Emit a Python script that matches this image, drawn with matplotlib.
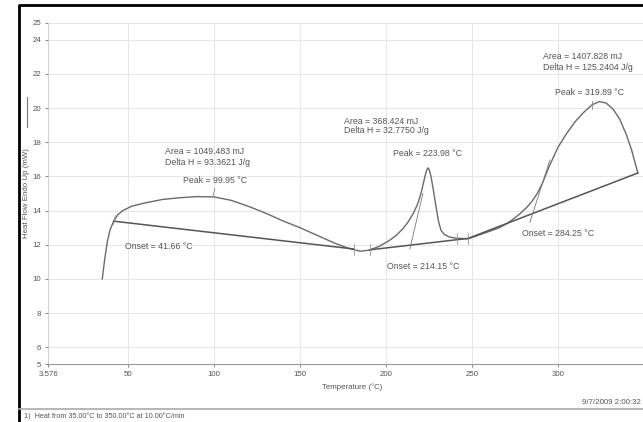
import matplotlib
matplotlib.use("Agg")
import matplotlib.pyplot as plt
from matplotlib.lines import Line2D

plt.rcParams['font.family'] = ['Liberation Sans', 'DejaVu Sans']

# DSC trace (temperature in C, heat flow in mW)
temp = [35, 36.5, 38, 39.5, 41.5, 44, 47, 52, 60, 70, 80, 90, 100, 110, 120,
        130, 140, 150, 160, 170, 178, 185, 190, 196, 202, 206, 210, 213, 216,
        218.5, 220.5, 222, 223.3, 224.3, 225.2, 226.2, 227.5, 229, 230.5, 232,
        234, 237, 241, 248, 255, 262, 266, 270, 274, 278, 282, 285, 288, 291,
        295, 300, 305, 310, 315, 320, 324, 328, 332, 336, 340, 343, 346.5]
heat = [10.0, 11.2, 12.2, 12.85, 13.35, 13.75, 14.0, 14.25, 14.45, 14.65,
        14.75, 14.82, 14.8, 14.6, 14.25, 13.85, 13.4, 13.0, 12.55, 12.1, 11.8,
        11.62, 11.68, 11.9, 12.25, 12.55, 12.95, 13.35, 13.85, 14.4, 15.05,
        15.7, 16.25, 16.5, 16.4, 16.0, 15.25, 14.3, 13.4, 12.85, 12.6, 12.45,
        12.38, 12.35, 12.6, 12.85, 13.0, 13.22, 13.5, 13.82, 14.2, 14.55, 15.0,
        15.6, 16.6, 17.7, 18.5, 19.2, 19.75, 20.2, 20.38, 20.3, 19.95, 19.35,
        18.4, 17.5, 16.2]

# integration baselines (start/end points)
base_t = [(41.66, 181.4), (190.5, 247.7), (247.7, 346.5)]
base_h = [(13.38, 11.75), (11.7, 12.37), (12.37, 16.2)]

# onset tangents
tan_t = [(213.9, 221.5), (283.7, 295.3)]
tan_h = [(11.75, 15.0), (13.3, 16.95)]

labels = [
    ("Area = 1049.483 mJ", 71.5, 17.47),
    ("Delta H = 93.3621 J/g", 71.5, 16.84),
    ("Peak = 99.95 °C", 82, 15.79),
    ("Onset = 41.66 °C", 48.3, 11.87),
    ("Area = 368.424 mJ", 175.6, 19.24),
    ("Delta H = 32.7750 J/g", 175.6, 18.66),
    ("Peak = 223.98 °C", 204, 17.37),
    ("Onset = 214.15 °C", 200.6, 10.7),
    ("Area = 1407.828 mJ", 291.3, 23.05),
    ("Delta H = 125.2404 J/g", 291.3, 22.4),
    ("Peak = 319.89 °C", 298.3, 20.94),
    ("Onset = 284.25 °C", 279, 12.63),
]

xticks = [3.576, 50, 100, 150, 200, 250, 300]
yticks = [5, 6, 8, 10, 12, 14, 16, 18, 20, 22, 24, 25]

W, H = 643, 422
fig = plt.figure(figsize=(W / 100, H / 100), dpi=100)
ax = fig.add_axes([48.2 / W, 57.7 / H, (643 - 48.2) / W, 341.6 / H])

txt = '#555555'
ax.set_xlim(3.576, 349.5)
ax.set_ylim(5, 25)
ax.set_xticks(xticks)
ax.set_xticklabels(['3.576', '50', '100', '150', '200', '250', '300'])
ax.set_yticks(yticks)
ax.grid(True, color='#e6e6e6', linewidth=0.7)
ax.tick_params(labelsize=5.7, colors=txt, length=2, width=0.5, pad=3)
for s in ['top', 'right']:
    ax.spines[s].set_visible(False)
ax.spines['left'].set_color('#cccccc')
ax.spines['bottom'].set_color('#999999')
ax.spines['left'].set_linewidth(0.6)
ax.spines['bottom'].set_linewidth(0.8)

ax.plot(temp, heat, color='#6a6a6a', linewidth=1.0)
for bt, bh in zip(base_t, base_h):
    ax.plot(bt, bh, color='#555555', linewidth=1.1)
for tt, th in zip(tan_t, tan_h):
    ax.plot(tt, th, color='#777777', linewidth=0.6)

# small tick marks at peaks and baseline limits
for t in [181.4, 190.5, 241.3, 247.7]:
    h = 11.72 if t < 195 else 12.37
    ax.plot([t, t], [h - 0.3, h + 0.3], color='#999999', linewidth=0.6)
ax.plot([99.5, 100.5], [14.85, 15.3], color='#888888', linewidth=0.6)
ax.plot([319.9, 319.9], [19.95, 20.4], color='#888888', linewidth=0.6)
ax.plot([41.6, 42.6], [13.2, 13.7], color='#888888', linewidth=0.6)

for s, x, y in labels:
    ax.text(x, y, s, fontsize=6.3, color=txt, va='center', ha='left')

ax.set_xlabel('Temperature (°C)', fontsize=5.7, color=txt, labelpad=-2)
ax.xaxis.set_label_coords((352 - 48.2) / (643 - 48.2), -19 / 341.6)

# y label with line sample
fig.text(27 / W, 1 - 193 / H, 'Heat Flow Endo Up (mW)', rotation=90,
         fontsize=5.7, color=txt, ha='center', va='center')
fig.add_artist(Line2D([27 / W, 27 / W], [1 - 97 / H, 1 - 127 / H],
                      transform=fig.transFigure, color='#777777', linewidth=0.8))

# page frame
fig.add_artist(Line2D([19 / W, 19 / W, 1.01], [0, 1 - 5 / H, 1 - 5 / H],
                      transform=fig.transFigure, color='black', linewidth=2))
fig.add_artist(Line2D([19 / W, 1.0], [1 - 409 / H, 1 - 409 / H],
                      transform=fig.transFigure, color='#aaaaaa', linewidth=1.2))

fig.text(641 / W, 1 - 403 / H, '9/7/2009 2:00:32', fontsize=5.7, color=txt,
         ha='right', va='center')
fig.text(24 / W, 1 - 416 / H, '1)  Heat from 35.00°C to 350.00°C at 10.00°C/min',
         fontsize=5.2, color=txt, ha='left', va='center')

fig.savefig('out.png', dpi=100)
